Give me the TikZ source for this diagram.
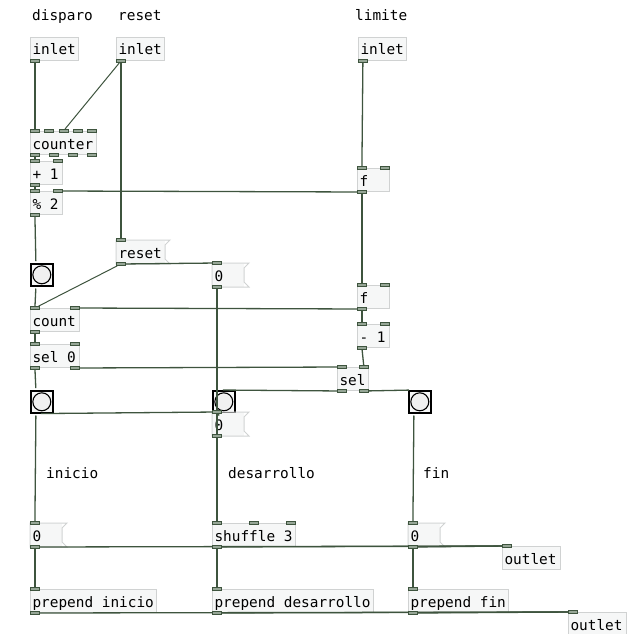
\documentclass[tikz,border=0pt]{standalone}
\usepackage{fontspec}
\usepackage{tikz}
\usepackage{xcolor}
\newfontfamily\pdfont{DejaVu Sans Mono}
\newcommand\pdtext{\pdfont\fontsize{14.4}{16}\selectfont}
\newcommand\pdsp{\hspace*{0.602em}}
\usetikzlibrary{calc}
\definecolor{wirecol}{RGB}{62,84,62}
\definecolor{portfill}{RGB}{150,166,150}
\definecolor{boxfill}{RGB}{246,247,247}
\definecolor{boxline}{RGB}{208,210,210}
\pgfdeclarelayer{boxes}
\pgfdeclarelayer{ports}
\pgfsetlayers{boxes,main,ports}

\begin{document}
\begin{tikzpicture}[x=1pt, y=-1pt,
        box/.style={draw=boxline, fill=boxfill, line width=1pt, anchor=north west,
                    text width=#1, inner xsep=2pt, inner ysep=0pt, minimum height=23pt,
                    text height=15pt, text depth=3pt, font=\pdtext},
        msg/.style={box=#1, draw=none},
        bang/.style={draw=black, line width=1.6pt, fill=boxfill, anchor=north west,
                     minimum size=22pt, inner sep=0pt,
                     path picture={\draw[line width=1.1pt, fill=white!94!black]
                       (path picture bounding box.center) circle (9pt);}},
        port/.style={draw=wirecol, fill=portfill, line width=0.8pt, anchor=west,
                     minimum width=9pt, minimum height=3pt, inner sep=0pt},
        hport/.style={port, draw=none, fill=none},
        cord/.style={draw=wirecol, line width=1.3pt},
        dcord/.style={draw=wirecol, line width=1pt},
        note/.style={anchor=base west, inner sep=0pt, font=\pdtext}
      ]
        \useasboundingbox (0,0) rectangle (626,634);

        \begin{pgfonlayer}{boxes}
        \node[box=44]  (inA)     at (30,37)   {inlet};
        \node[box=44]  (inB)     at (116,37)  {inlet};
        \node[box=44]  (inC)     at (358,37)  {inlet};
        \node[box=62]  (counter) at (30,131)  {counter};
        \node[box=28]  (plus)    at (30,161)  {+\pdsp1};
        \node[box=28]  (mod)     at (30,191)  {\%\pdsp2};
        \node[box=28]  (fA)      at (357,168) {f};
        \node[bang]    (bA)      at (30,263)  {};
        \node[msg=44]  (reset)   at (116,240) {reset};
        \node[msg=27]  (zA)      at (212,263) {0};
        \node[box=28]  (fB)      at (357,285) {f};
        \node[box=45]  (count)   at (30,308)  {count};
        \node[box=28]  (minus)   at (357,324) {-\pdsp1};
        \node[box=45]  (sel0)    at (30,344)  {sel\pdsp0};
        \node[box=27]  (sel)     at (337,367) {sel};
        \node[bang]    (bD)      at (30,390)  {};
        \node[bang]    (bB)      at (212,390) {};
        \node[bang]    (bC)      at (408,390) {};
        \node[msg=27]  (zB)      at (212,412) {0};
        \node[msg=27]  (zL)      at (30,523)  {0};
        \node[box=79]  (shuffle) at (212,523) {shuffle\pdsp3};
        \node[msg=27]  (zR)      at (408,523) {0};
        \node[box=54]  (out1)    at (502,546) {outlet};
        \node[box=122] (pIni)    at (30,589)  {prepend\pdsp inicio};
        \node[box=157] (pDes)    at (212,589) {prepend\pdsp desarrollo};
        \node[box=96]  (pFin)    at (408,589) {prepend\pdsp fin};
        \node[box=54]  (out2)    at (568,612) {outlet};
        % message flags
        \foreach \m in {reset,zA,zB,zL,zR}
          \draw[draw=boxline, line width=1pt] (\m.north west) -- ([xshift=5]\m.north east)
            -- ([yshift=-5]\m.north east) -- ([yshift=5]\m.south east)
            -- ([xshift=5]\m.south east) -- (\m.south west) -- cycle;
        \end{pgfonlayer}

        % comments
        \node[note] (cDis) at (32,21)  {disparo};
        \node[note] (cRes) at (118,21) {reset};
        \node[note] (cLim) at (355,21) {limite};
        \node[note] (cIni) at (46,478) {inicio};
        \node[note] (cDes) at (228,478) {desarrollo};
        \node[note] (cFin) at (423,478) {fin};

        \begin{pgfonlayer}{ports}
        % inlets
        \foreach \b/\n/\dx in {counter/0/0, counter/1/14, counter/2/28.5, counter/3/43,
            counter/4/57, plus/0/0, plus/1/23, mod/0/0, mod/1/23, reset/0/0, zA/0/0,
            count/0/0, count/1/40, sel0/0/0, sel0/1/40, fA/0/0, fA/1/23, fB/0/0, fB/1/23,
            minus/0/0, minus/1/23, sel/0/0, sel/1/22, zB/0/0, zL/0/0, shuffle/0/0,
            shuffle/1/37, shuffle/2/74, zR/0/0, out1/0/0, pIni/0/0, pDes/0/0, pFin/0/0,
            out2/0/0}
          \node[port] (\b-i\n) at ([xshift=\dx]\b.north west) {};
        % outlets
        \foreach \b/\n/\dx in {inA/0/0, inB/0/0, inC/0/0, counter/0/0, counter/1/18.5,
            counter/2/37.5, counter/3/57, plus/0/0, mod/0/0, reset/0/0, zA/0/0, count/0/0,
            sel0/0/0, sel0/1/40, fA/0/0, fB/0/0, minus/0/0, sel/0/0, sel/1/22, zB/0/0,
            zL/0/0, shuffle/0/0, zR/0/0, pIni/0/0, pDes/0/0, pFin/0/0}
          \node[port] (\b-o\n) at ([xshift=\dx]\b.south west) {};
        % bangs
        \foreach \b in {bA,bB,bC,bD} {
          \node[hport] (\b-i0) at ([xshift=1]\b.north west) {};
          \node[hport] (\b-o0) at ([xshift=1]\b.south west) {};
        }
        \end{pgfonlayer}

        % connections
        \draw[cord] (inA-o0) -- (counter-i0);
        \draw[dcord] (inB-o0) -- (counter-i2);
        \draw[cord] (inB-o0) -- (reset-i0);
        \draw[cord] (counter-o0) -- (plus-i0);
        \draw[cord] (plus-o0) -- (mod-i0);
        \draw[cord] (inC-o0) -- (fA-i0);
        \draw[cord] (fA-o0) -- (mod-i1);
        \draw[cord] (fA-o0) -- (fB-i0);
        \draw[cord] (mod-o0) -- (bA-i0);
        \draw[cord] (bA-o0) -- (count-i0);
        \draw[dcord] (reset-o0) -- (count-i0);
        \draw[cord] (reset-o0) -- (zA-i0);
        \draw[cord] (fB-o0) -- (count-i1);
        \draw[cord] (fB-o0) -- (minus-i0);
        \draw[cord] (count-o0) -- (sel0-i0);
        \draw[cord] (sel0-o1) -- (sel-i0);
        \draw[cord] (minus-o0) -- (sel-i1);
        \draw[cord] (sel0-o0) -- (bD-i0);
        \draw[cord] (sel-o0) -- (bB-i0);
        \draw[cord] (sel-o1) -- (bC-i0);
        \draw[cord] (zA-o0) -- (shuffle-i0);
        \draw[cord] (bB-o0) -- (zB-i0);
        \draw[cord] (zB-o0) -- (shuffle-i0);
        \draw[cord] (bD-o0) -- (zB-i0);
        \draw[cord] (bD-o0) -- (zL-i0);
        \draw[cord] (bC-o0) -- (zR-i0);
        \draw[cord] (zL-o0) -- (out1-i0);
        \draw[cord] (shuffle-o0) -- (out1-i0);
        \draw[cord] (zR-o0) -- (out1-i0);
        \draw[cord] (zL-o0) -- (pIni-i0);
        \draw[cord] (shuffle-o0) -- (pDes-i0);
        \draw[cord] (zR-o0) -- (pFin-i0);
        \draw[cord] (pIni-o0) -- (out2-i0);
        \draw[cord] (pDes-o0) -- (out2-i0);
        \draw[cord] (pFin-o0) -- (out2-i0);
      \end{tikzpicture}
\end{document}
